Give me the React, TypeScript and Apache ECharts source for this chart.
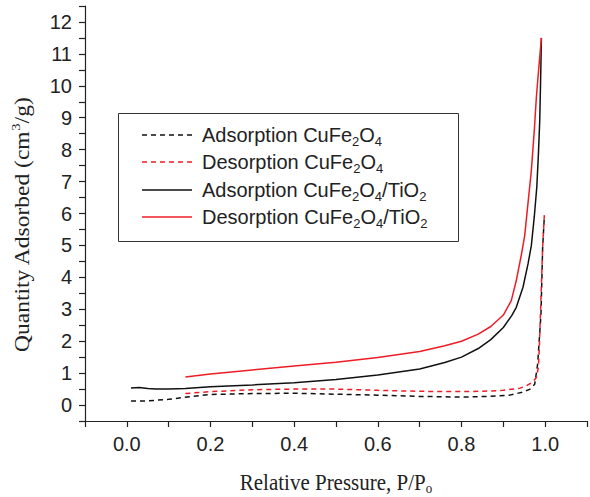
import React, { useEffect, useRef } from 'react';
import * as echarts from 'echarts';

// [P/P0, quantity adsorbed]
const adsCuFe2O4: [number, number][] = [
  [0.01, 0.13], [0.05, 0.13], [0.1, 0.18], [0.15, 0.26], [0.2, 0.33], [0.3, 0.36],
  [0.4, 0.37], [0.5, 0.34], [0.6, 0.31], [0.7, 0.27], [0.8, 0.25], [0.86, 0.27],
  [0.915, 0.31], [0.945, 0.4], [0.963, 0.49], [0.975, 0.65], [0.982, 1.28],
  [0.99, 2.85], [0.994, 4.94], [0.998, 5.9],
];
const desCuFe2O4: [number, number][] = [
  [0.14, 0.36], [0.2, 0.42], [0.3, 0.48], [0.4, 0.5], [0.5, 0.5], [0.6, 0.46],
  [0.7, 0.43], [0.76, 0.42], [0.85, 0.43], [0.9, 0.46], [0.94, 0.53], [0.955, 0.6],
  [0.97, 0.72], [0.979, 0.86], [0.984, 1.2], [0.986, 1.8], [0.99, 3.37],
  [0.994, 4.94], [0.998, 5.95],
];
const adsComposite: [number, number][] = [
  [0.01, 0.53], [0.03, 0.55], [0.05, 0.52], [0.07, 0.5], [0.1, 0.5], [0.14, 0.52],
  [0.2, 0.57], [0.3, 0.63], [0.4, 0.7], [0.5, 0.8], [0.6, 0.94], [0.7, 1.13],
  [0.76, 1.33], [0.8, 1.5], [0.84, 1.77], [0.87, 2.05], [0.9, 2.43], [0.92, 2.8],
  [0.931, 3.06], [0.947, 3.69], [0.959, 4.42], [0.967, 5.0], [0.974, 5.9],
  [0.98, 6.83], [0.984, 7.9], [0.987, 8.9], [0.989, 10.1], [0.991, 11.5],
];
const desComposite: [number, number][] = [
  [0.14, 0.88], [0.2, 0.97], [0.3, 1.1], [0.4, 1.22], [0.5, 1.34], [0.6, 1.49],
  [0.7, 1.68], [0.76, 1.86], [0.8, 2.0], [0.84, 2.22], [0.87, 2.46], [0.9, 2.82],
  [0.919, 3.27], [0.931, 3.9], [0.943, 4.7], [0.951, 5.3], [0.958, 6.2],
  [0.967, 7.35], [0.974, 8.6], [0.979, 9.65], [0.985, 10.6], [0.991, 11.5],
];

const seriesNames = [
  'Adsorption CuFe{s|2}O{s|4}',
  'Desorption CuFe{s|2}O{s|4}',
  'Adsorption CuFe{s|2}O{s|4}/TiO{s|2}',
  'Desorption CuFe{s|2}O{s|4}/TiO{s|2}',
];
const seriesData = [adsCuFe2O4, desCuFe2O4, adsComposite, desComposite];
const xTitle = 'Relative Pressure, P/P{s|o}';
const yTitle = 'Quantity Adsorbed (cm{sup|3}/g)';

const RED = '#ee1c25';
const BLACK = '#111111';
const colors = [BLACK, RED, BLACK, RED];
const dashed = [true, true, false, false];

export default function App() {
  const ref = useRef<HTMLDivElement>(null);
  useEffect(() => {
    if (!ref.current) return;
    const chart = echarts.init(ref.current, undefined, { renderer: 'svg' });
    const sans = '"Liberation Sans", Arial, sans-serif';
    const serif = '"Liberation Serif", "Times New Roman", serif';
    const legendRows = [135, 162, 190, 217];
    const legendRich = {
      s: { fontSize: 13, fontFamily: sans, color: '#222', padding: [12, 0, 0, 0] },
    };
    const graphic: any[] = [
      {
        type: 'rect', z: 100,
        shape: { x: 118.5, y: 113.5, width: 340, height: 128 },
        style: { fill: '#fff', stroke: '#333', lineWidth: 1 },
      },
    ];
    seriesNames.forEach((n, i) => {
      graphic.push({
        type: 'line', z: 101,
        shape: { x1: 142, y1: legendRows[i], x2: 192, y2: legendRows[i] },
        style: { stroke: colors[i], lineWidth: 1.5, lineDash: dashed[i] ? [5, 4] : null },
      });
      graphic.push({
        type: 'text', z: 101, x: 202, y: legendRows[i],
        style: {
          text: n, fontSize: 20, fontFamily: sans, fill: '#222',
          verticalAlign: 'middle', align: 'left', rich: legendRich,
        },
      });
    });
    graphic.push({
      type: 'text', x: 22, y: 225, rotation: Math.PI / 2, scaleX: 1.12,
      style: {
        text: yTitle, fontSize: 21, fontFamily: serif, fill: '#222',
        align: 'center', verticalAlign: 'middle',
        rich: { sup: { fontSize: 13, fontFamily: serif, color: '#222', padding: [0, 0, 13, 0] } },
      },
    });
    graphic.push({
      type: 'text', x: 336, y: 482, scaleY: 1.12,
      style: {
        text: xTitle, fontSize: 21, fontFamily: serif, fill: '#222',
        align: 'center', verticalAlign: 'middle',
        rich: { s: { fontSize: 13, fontFamily: serif, color: '#222', padding: [12, 0, 0, 0] } },
      },
    });

    chart.setOption({
      animation: false,
      grid: { left: 85, right: 0, top: 6, bottom: 76, containLabel: false },
      xAxis: {
        type: 'value', min: -0.1, max: 1.1, interval: 0.1,
        axisLine: { show: true, onZero: false, lineStyle: { color: '#222', width: 1.2 } },
        axisTick: { show: true, inside: false, length: 6, lineStyle: { color: '#222', width: 1.2 } },
        splitLine: { show: false },
        axisLabel: {
          margin: 13, fontSize: 20, fontFamily: sans, color: '#222',
          formatter: (v: number) => {
            const t = Math.round(v * 10);
            return t >= 0 && t <= 10 && t % 2 === 0 ? (t / 10).toFixed(1) : '';
          },
        },
      },
      yAxis: {
        type: 'value', min: -0.5, max: 12.5, interval: 0.5,
        axisLine: { show: true, onZero: false, lineStyle: { color: '#222', width: 1.2 } },
        axisTick: { show: true, inside: false, length: 6, lineStyle: { color: '#222', width: 1.2 } },
        splitLine: { show: false },
        axisLabel: {
          margin: 13, fontSize: 20, fontFamily: sans, color: '#222',
          formatter: (v: number) => {
            const t = Math.round(v * 2);
            return t >= 0 && t % 2 === 0 ? String(t / 2) : '';
          },
        },
      },
      series: seriesData.map((d, i) => ({
        type: 'line',
        name: seriesNames[i],
        data: d,
        showSymbol: false,
        symbol: 'none',
        smooth: false,
        lineStyle: { color: colors[i], width: 1.5, type: dashed[i] ? [5, 4] : 'solid' },
        z: 3,
      })),
      graphic,
    });
    return () => chart.dispose();
  }, []);
  return (
    <div
      ref={ref}
      style={{ position: 'fixed', left: 0, top: 0, width: 590, height: 497, background: '#fff' }}
    />
  );
}
